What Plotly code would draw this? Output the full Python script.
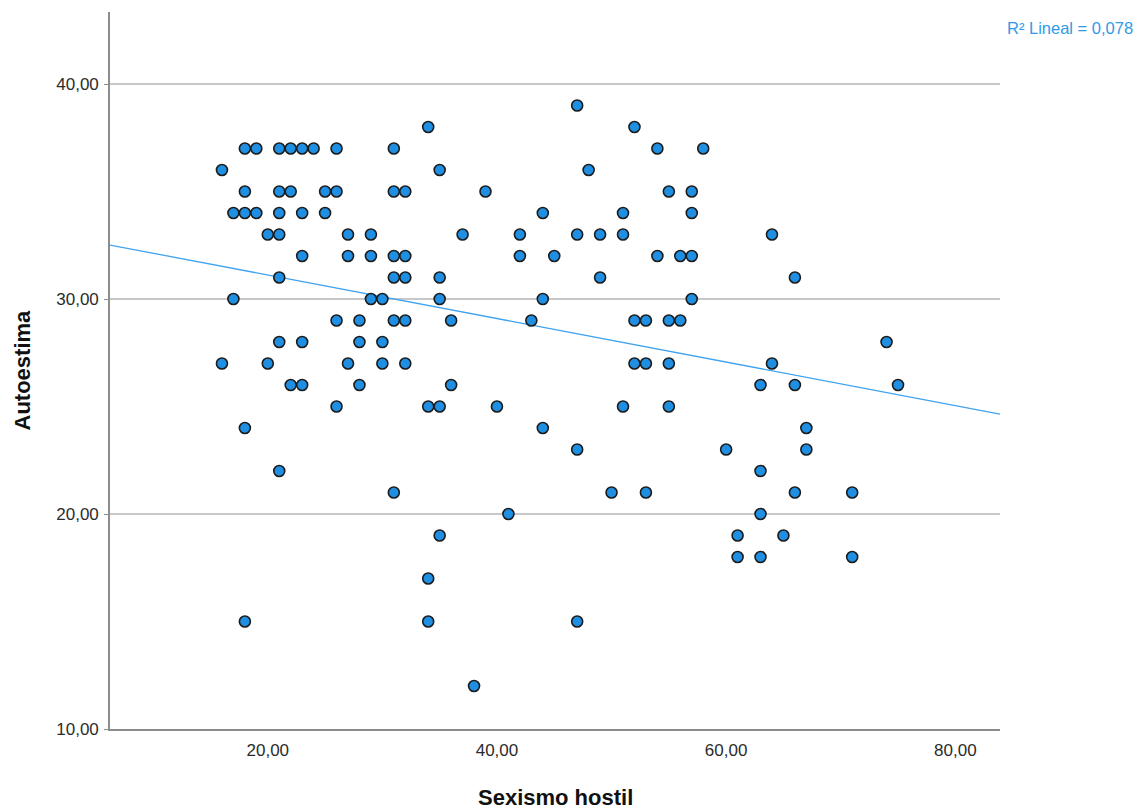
import numpy as np
import plotly.graph_objects as go

# Data (Sexismo hostil, Autoestima), grouped by Autoestima value
rows = {
    39: [47],
    38: [34, 52],
    37: [18, 19, 21, 22, 23, 24, 26, 31, 54, 58],
    36: [16, 35, 48],
    35: [18, 21, 22, 25, 26, 31, 32, 39, 55, 57],
    34: [17, 18, 19, 21, 23, 25, 44, 51, 57],
    33: [20, 21, 27, 29, 37, 42, 47, 49, 51, 64],
    32: [23, 27, 29, 31, 32, 42, 45, 54, 56, 57],
    31: [21, 31, 32, 35, 49, 66],
    30: [17, 29, 30, 35, 44, 57],
    29: [26, 28, 31, 32, 36, 43, 52, 53, 55, 56],
    28: [21, 23, 28, 30, 74],
    27: [16, 20, 27, 30, 32, 52, 53, 55, 64],
    26: [22, 23, 28, 36, 63, 66, 75],
    25: [26, 34, 35, 40, 51, 55],
    24: [18, 44, 67],
    23: [47, 60, 67],
    22: [21, 63],
    21: [31, 50, 53, 66, 71],
    20: [41, 63],
    19: [35, 61, 65],
    18: [61, 63, 71],
    17: [34],
    15: [18, 34, 47],
    12: [38],
}
sexismo = [x for yv, xs in rows.items() for x in xs]
autoestima = [yv for yv, xs in rows.items() for x in xs]

x_ticks = [20, 40, 60, 80]
x_tick_labels = ["20,00", "40,00", "60,00", "80,00"]
y_ticks = [10, 20, 30, 40]
y_tick_labels = ["10,00", "20,00", "30,00", "40,00"]
x_range = [6.23, 83.9]
y_range = [10, 43.35]

# Linear fit line
fit_intercept = 33.14
fit_slope = -0.1012
r2_label = "R² Lineal = 0,078"

FONT = "Liberation Sans, Arial, sans-serif"

fig = go.Figure()
fit_x = np.array(x_range)
fig.add_trace(go.Scatter(
    x=fit_x, y=fit_intercept + fit_slope * fit_x, mode="lines",
    line=dict(color="#3fa3f0", width=1.3), hoverinfo="skip", showlegend=False,
))
fig.add_trace(go.Scatter(
    x=sexismo, y=autoestima, mode="markers",
    marker=dict(size=11, color="#1f8fe3", line=dict(color="#1c1c1c", width=1.6)),
    showlegend=False,
))

fig.update_layout(
    width=1135, height=803,
    margin=dict(l=102, r=143, t=4, b=82),
    paper_bgcolor="white", plot_bgcolor="white",
    font=dict(family=FONT, size=17, color="#2b2b2b"),
    xaxis=dict(
        range=x_range, tickvals=x_ticks, ticktext=x_tick_labels,
        showgrid=False, zeroline=False, showline=True, linecolor="#8c8c8c", linewidth=1.6,
        ticks="", ticklabelstandoff=5,
    ),
    yaxis=dict(
        range=y_range, tickvals=y_ticks, ticktext=y_tick_labels,
        showgrid=True, gridcolor="#c8c8c8", gridwidth=1.5, zeroline=False,
        showline=True, linecolor="#8c8c8c", linewidth=1.6,
        ticks="outside", ticklen=4, tickcolor="#8c8c8c", ticklabelstandoff=2,
    ),
    annotations=[
        dict(text="<b>Sexismo hostil</b>", xref="paper", yref="paper", x=0.5, y=0,
             xanchor="center", yanchor="middle", yshift=-68, showarrow=False,
             font=dict(family=FONT, size=22, color="#111111")),
        dict(text="<b>Autoestima</b>", xref="paper", yref="paper", x=0, y=0.5,
             xanchor="center", yanchor="middle", xshift=-88, textangle=-90, showarrow=False,
             font=dict(family=FONT, size=22, color="#111111")),
        dict(text=r2_label, xref="paper", yref="paper", x=1, y=1,
             xanchor="left", yanchor="middle", xshift=5, yshift=-16, showarrow=False,
             font=dict(family=FONT, size=16.5, color="#2f9be8")),
    ],
)

fig.write_html("out.html")
